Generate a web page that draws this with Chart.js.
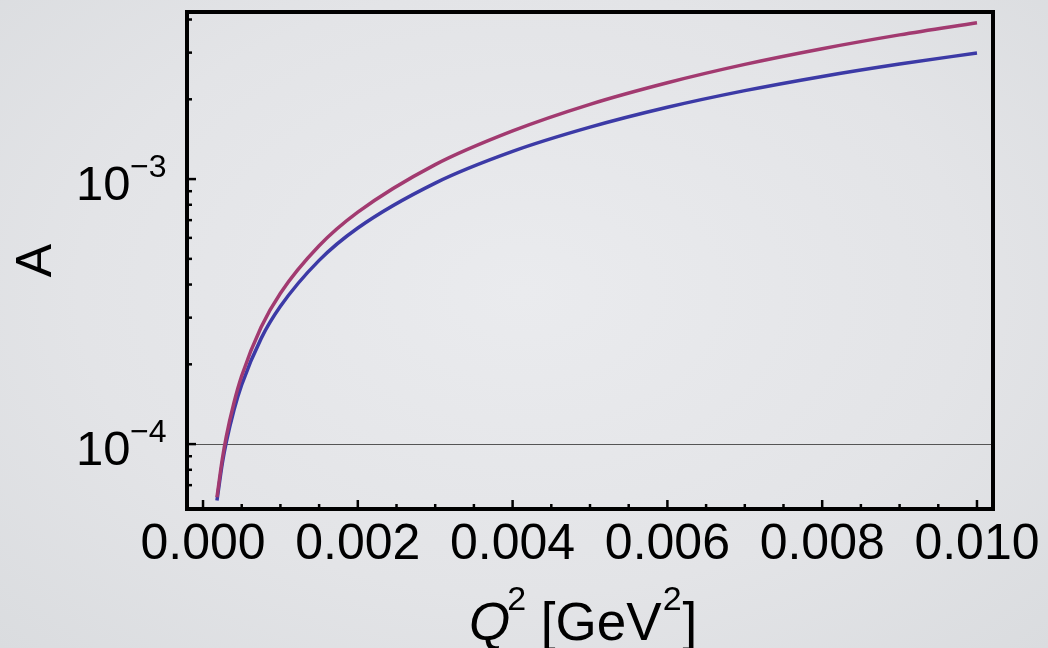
<!DOCTYPE html>
<html>
<head>
<meta charset="utf-8">
<script src="https://cdn.jsdelivr.net/npm/chart.js@4/dist/chart.umd.min.js"></script>
<style>
  body { margin: 0; background: radial-gradient(ellipse at 50% 45%, #eaebee 0%, #e3e4e7 60%, #dadcdf 100%); }
  #wrap { width: 1048px; height: 648px; }
</style>
</head>
<body>
<div id="wrap"><canvas id="chart" width="1048" height="648"></canvas></div>
<script>
// Q^2 in GeV^2
const q2 = [0.00018, 0.00025, 0.0003, 0.0004, 0.0005, 0.00075, 0.001, 0.0015, 0.002, 0.003, 0.004, 0.005, 0.006, 0.007, 0.008, 0.009, 0.010];
// asymmetry A
const asymUpper = [6.3e-5, 8.8e-5, 1.065e-4, 1.432e-4, 1.81e-4, 2.76e-4, 3.71e-4, 5.6e-4, 7.5e-4, 1.134e-3, 1.52e-3, 1.915e-3, 2.31e-3, 2.709e-3, 3.104e-3, 3.50e-3, 3.89e-3];
const asymLower = [6.12e-5, 8.48e-5, 1.014e-4, 1.344e-4, 1.675e-4, 2.50e-4, 3.31e-4, 4.935e-4, 6.54e-4, 9.66e-4, 1.272e-3, 1.57e-3, 1.866e-3, 2.156e-3, 2.44e-3, 2.718e-3, 2.99e-3];

const xMajor = 0.002;           // labelled x ticks
const yDecades = [-4, -3];      // labelled y ticks, 10^n
const refLine = 1e-4;           // thin horizontal line

const FONT = '"Liberation Sans", Arial, Helvetica, sans-serif';

const isDecade = v => Math.abs(Math.log10(v) - Math.round(Math.log10(v))) < 1e-6;
const isWholeMantissa = v => {
  const m = v / Math.pow(10, Math.floor(Math.log10(v) + 1e-9));
  return Math.abs(m - Math.round(m)) < 1e-6;
};

// frame, inward ticks, superscript labels
const framePlugin = {
  id: 'frame',
  afterDatasetsDraw(chart) {
    const { ctx, chartArea: a, scales: { x, y } } = chart;
    ctx.save();
    ctx.strokeStyle = '#000';
    ctx.lineWidth = 2.5;
    x.ticks.forEach(t => {
      const major = Math.abs(t.value / xMajor - Math.round(t.value / xMajor)) < 1e-6;
      const px = x.getPixelForValue(t.value);
      ctx.beginPath();
      ctx.moveTo(px, a.bottom);
      ctx.lineTo(px, a.bottom - (major ? 9 : 5));
      ctx.stroke();
    });
    y.ticks.forEach(t => {
      if (!isWholeMantissa(t.value)) return;
      const py = y.getPixelForValue(t.value);
      ctx.beginPath();
      ctx.moveTo(a.left, py);
      ctx.lineTo(a.left + (isDecade(t.value) ? 9 : 5), py);
      ctx.stroke();
    });
    ctx.lineWidth = 4;
    ctx.strokeRect(a.left, a.top, a.right - a.left, a.bottom - a.top);

    // y labels 10^n
    ctx.fillStyle = '#000';
    ctx.textAlign = 'left';
    ctx.textBaseline = 'alphabetic';
    yDecades.forEach(e => {
      const py = y.getPixelForValue(Math.pow(10, e));
      ctx.font = '49px ' + FONT;
      ctx.fillText('10', 76, py + 21);
      ctx.font = '32px ' + FONT;
      ctx.fillText('\u2212' + Math.abs(e), 130, py - 2);
    });

    // x title: Q^2 [GeV^2]
    let xx = 469;
    const base = 640;
    const part = (txt, font, dy, dx) => {
      ctx.font = font;
      xx += dx || 0;
      ctx.fillText(txt, xx, base + dy);
      xx += ctx.measureText(txt).width;
    };
    part('Q', 'italic 53px ' + FONT, 0);
    part('2', '34px ' + FONT, -30, -3);
    part(' [GeV', '53px ' + FONT, 0);
    part('2', '34px ' + FONT, -30, 1);
    part(']', '53px ' + FONT, 0, 1);
    ctx.restore();
  }
};

new Chart(document.getElementById('chart'), {
  type: 'line',
  data: {
    datasets: [
      {
        data: q2.map((v, i) => ({ x: v, y: asymUpper[i] })),
        borderColor: '#a23a70',
        borderWidth: 3.5,
        pointRadius: 0,
        cubicInterpolationMode: 'monotone'
      },
      {
        data: q2.map((v, i) => ({ x: v, y: asymLower[i] })),
        borderColor: '#3c3aa6',
        borderWidth: 3.5,
        pointRadius: 0,
        cubicInterpolationMode: 'monotone'
      }
    ]
  },
  options: {
    responsive: false,
    animation: false,
    layout: { padding: { top: 12, right: 55, left: 0, bottom: 0 } },
    plugins: { legend: { display: false }, tooltip: { enabled: false } },
    scales: {
      x: {
        type: 'linear',
        min: -0.000207,
        max: 0.010207,
        border: { display: false },
        grid: { display: false, drawTicks: false },
        ticks: {
          stepSize: 0.0005,
          includeBounds: false,
          autoSkip: false,
          maxRotation: 0,
          padding: 6,
          color: '#000',
          font: { size: 50, family: FONT },
          callback: v => Math.abs(v / xMajor - Math.round(v / xMajor)) < 1e-6 ? Math.abs(v).toFixed(3) : ''
        },
        afterFit: s => { s.height = 139; }
      },
      y: {
        type: 'logarithmic',
        min: 5.69e-5,
        max: 4.27e-3,
        border: { display: false },
        grid: {
          drawTicks: false,
          lineWidth: 1,
          color: c => (c.tick && Math.abs(c.tick.value - refLine) / refLine < 1e-6) ? '#555' : 'rgba(0,0,0,0)'
        },
        ticks: { display: false },
        title: {
          display: true,
          text: 'A',
          color: '#000',
          font: { size: 50, family: FONT },
          padding: { top: 7, bottom: 0 }
        },
        afterFit: s => { s.width = 187; }
      }
    }
  },
  plugins: [framePlugin]
});
</script>
</body>
</html>
